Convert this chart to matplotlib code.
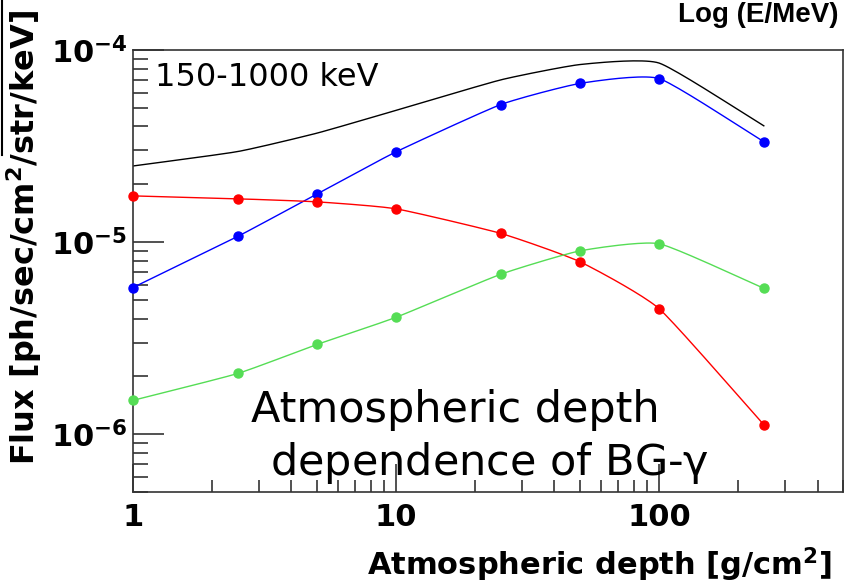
import numpy as np
import matplotlib
matplotlib.use("Agg")
import matplotlib.pyplot as plt
from matplotlib.ticker import FixedLocator, NullFormatter, LogLocator

depth = [1, 2.5, 5, 10, 25, 50, 100, 250]
blue_flux = [5.8e-6, 1.07e-5, 1.78e-5, 2.95e-5, 5.2e-5, 6.7e-5, 7.1e-5, 3.33e-5]
red_flux = [1.74e-5, 1.68e-5, 1.62e-5, 1.49e-5, 1.11e-5, 7.9e-6, 4.5e-6, 1.12e-6]
green_flux = [1.5e-6, 2.07e-6, 2.93e-6, 4.06e-6, 6.8e-6, 9.0e-6, 9.8e-6, 5.75e-6]
total_flux = [2.49e-5, 2.96e-5, 3.69e-5, 4.85e-5, 6.99e-5, 8.4e-5, 8.55e-5, 4.03e-5]

x_ticks = [1, 10, 100]
x_ticklabels = ["1", "10", "100"]
y_ticks = [1e-6, 1e-5, 1e-4]
y_ticklabels = [r"10$^{\mathbf{-6}}$", r"10$^{\mathbf{-5}}$", r"10$^{\mathbf{-4}}$"]


def smooth(x, y, n=20, tension=0.5):
    """Cardinal spline through the points in log-log space (drawing style only)."""
    lx, ly = np.log10(x), np.log10(y)
    px = np.concatenate([[2 * lx[0] - lx[1]], lx, [2 * lx[-1] - lx[-2]]])
    py = np.concatenate([[2 * ly[0] - ly[1]], ly, [2 * ly[-1] - ly[-2]]])
    ox, oy = [], []
    t = np.linspace(0, 1, n, endpoint=False)
    h00 = 2 * t**3 - 3 * t**2 + 1
    h10 = t**3 - 2 * t**2 + t
    h01 = -2 * t**3 + 3 * t**2
    h11 = t**3 - t**2
    for i in range(1, len(px) - 2):
        for arr, out in ((px, ox), (py, oy)):
            p0, p1, p2, p3 = arr[i - 1], arr[i], arr[i + 1], arr[i + 2]
            m1 = tension * (p2 - p0) / 2
            m2 = tension * (p3 - p1) / 2
            out.extend(h00 * p1 + h10 * m1 + h01 * p2 + h11 * m2)
    ox.append(lx[-1]); oy.append(ly[-1])
    return 10 ** np.array(ox), 10 ** np.array(oy)


plt.rcParams['font.family'] = ['DejaVu Sans']
plt.rcParams['mathtext.default'] = 'bf'
fig = plt.figure(figsize=(8.52, 5.85), dpi=100)
ax = fig.add_axes([133 / 852, 1 - 492 / 585, (843 - 133) / 852, (492 - 50) / 585])
ax.set_xscale('log')
ax.set_yscale('log')
ax.set_xlim(1, 500)
ax.set_ylim(5e-7, 1e-4)

ax.plot(*smooth(depth, total_flux), color='black', lw=1.0)
for vals, col in ((blue_flux, '#0000ff'), (red_flux, '#ff0000'), (green_flux, '#55dd55')):
    ax.plot(*smooth(depth, vals), color=col, lw=1.0)
    ax.plot(depth, vals, 'o', color=col, ms=6.5, mec=col, clip_on=False, zorder=5)

for sp in ax.spines.values():
    sp.set_color('#333333')
    sp.set_linewidth(1.2)

ax.xaxis.set_major_locator(FixedLocator(x_ticks))
ax.set_xticklabels(x_ticklabels)
ax.xaxis.set_minor_locator(LogLocator(base=10, subs=np.arange(2, 10)))
ax.xaxis.set_minor_formatter(NullFormatter())
ax.yaxis.set_major_locator(FixedLocator(y_ticks))
ax.set_yticklabels(y_ticklabels)
ax.yaxis.set_minor_locator(LogLocator(base=10, subs=np.arange(2, 10)))
ax.yaxis.set_minor_formatter(NullFormatter())

ax.tick_params(axis='both', which='both', direction='in', top=False, right=False, color='#333333')
ax.tick_params(axis='y', which='major', length=22, width=1.2, labelsize=22, pad=4)
ax.tick_params(axis='y', which='minor', length=11, width=1.2)
ax.tick_params(axis='x', which='major', length=20, width=1.2, labelsize=22, pad=8)
ax.tick_params(axis='x', which='minor', length=9, width=1.2)
for lab in ax.get_xticklabels() + ax.get_yticklabels():
    lab.set_fontweight('bold')

ax.text(155 / 852, 1 - 77 / 585, "150-1000 keV", transform=fig.transFigure, fontsize=23,
        va='center', ha='left')
ax.text(455 / 852, 1 - 410 / 585, "Atmospheric depth", transform=fig.transFigure,
        fontsize=31, ha='center', va='center')
ax.text(490 / 852, 1 - 463 / 585, r"dependence of BG-$\mathregular{\gamma}$", transform=fig.transFigure,
        fontsize=31, ha='center', va='center')

fig.text(832 / 852, 1 - 565 / 585, r"Atmospheric depth [g/cm$^{\mathbf{2}}$]", fontsize=22,
         fontweight='bold', ha='right', va='center')
fig.text(24 / 852, 1 - 237 / 585, r"Flux [ph/sec/cm$^{\mathbf{2}}$/str/keV]", fontsize=23,
         fontweight='bold', ha='center', va='center', rotation=90)
fig.text(838 / 852, 1 - 15 / 585, "Log (E/MeV)", fontsize=20, fontweight='bold',
         ha='right', va='center', family='Liberation Sans')
fig.add_artist(plt.Line2D([2 / 852, 2 / 852], [1 - 155 / 585, 1.0], color='black', lw=1.5,
                          transform=fig.transFigure))

fig.savefig("out.png", dpi=100)
